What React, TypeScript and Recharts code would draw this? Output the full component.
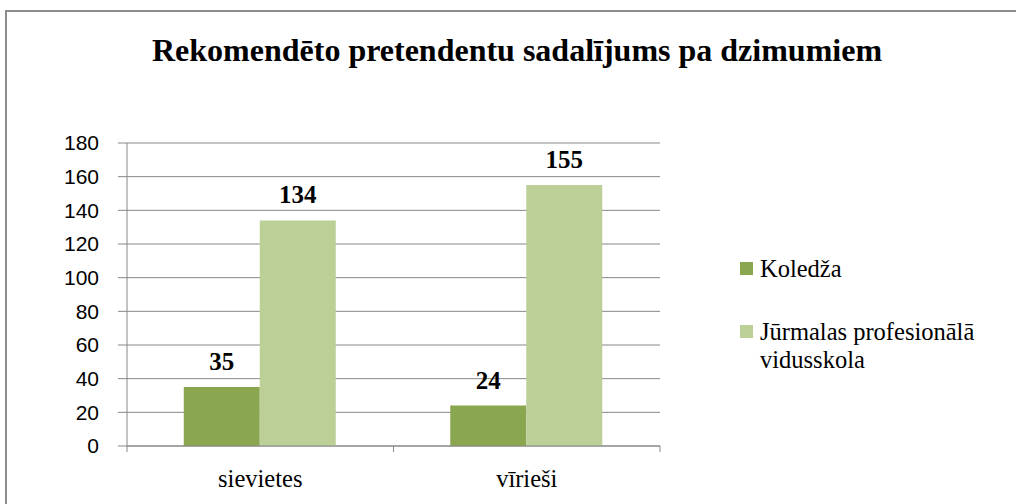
import React from 'react';
import { BarChart, Bar, XAxis, YAxis, CartesianGrid, Legend, LabelList } from 'recharts';

const title = 'Rekomendēto pretendentu sadalījums pa dzimumiem';
const categories = ['sievietes', 'vīrieši'];
const seriesNames = ['Koledža', 'Jūrmalas profesionālā vidusskola'];
const koledzaValues = [35, 24];
const jurmalaValues = [134, 155];
const yTicks = [0, 20, 40, 60, 80, 100, 120, 140, 160, 180];

const data = categories.map((name, i) => ({
  name,
  koledza: koledzaValues[i],
  jurmala: jurmalaValues[i],
}));

const AXIS = '#878787';
const DARK = '#8AA64F';
const LIGHT = '#BBCF97';
const SERIF = '"Liberation Serif", "Times New Roman", serif';
const SANS = '"Liberation Sans", Arial, sans-serif';

const XTick = (props: any) => {
  const { x, y, payload } = props;
  const off = payload && payload.offset ? payload.offset : 0;
  return (
    <g>
      <line x1={x - off} x2={x - off} y1={y} y2={y + 6} stroke={AXIS} />
      <line x1={x + off} x2={x + off} y1={y} y2={y + 6} stroke={AXIS} />
      <text x={x} y={y + 41} textAnchor="middle" fontFamily={SERIF} fontSize={24.5} fill="#000">
        {payload.value}
      </text>
    </g>
  );
};

const LegendContent = (props: any) => {
  const payload = [...(props.payload || [])].sort(
    (a: any, b: any) => seriesNames.indexOf(a.value) - seriesNames.indexOf(b.value)
  );
  return (
    <div style={{ fontFamily: SERIF, fontSize: 24.5, lineHeight: '28px', color: '#000' }}>
      {payload.map((e: any, i: number) => (
        <div
          key={i}
          style={{ display: 'flex', alignItems: 'flex-start', marginTop: i ? 35 : 0, width: 265 }}
        >
          <span
            style={{
              display: 'inline-block',
              width: 13,
              height: 13,
              background: e.color,
              marginTop: 7,
              marginRight: 7,
              flex: 'none',
            }}
          />
          <span>{e.value}</span>
        </div>
      ))}
    </div>
  );
};

export default function App() {
  return (
    <div
      style={{
        position: 'fixed',
        left: 0,
        top: 0,
        width: 1016,
        height: 504,
        background: '#fff',
        overflow: 'hidden',
      }}
    >
      <div
        style={{
          position: 'absolute',
          left: 5,
          top: 10,
          width: 1100,
          height: 600,
          borderTop: '2px solid #8c8c8c',
          borderLeft: '2px solid #8c8c8c',
        }}
      />
      <svg
        width={1016}
        height={504}
        style={{ position: 'absolute', left: 0, top: 0, pointerEvents: 'none' }}
      >
        <text
          x={517}
          y={61}
          textAnchor="middle"
          fontFamily={SERIF}
          fontWeight="bold"
          fontSize={32}
          fill="#000"
        >
          {title}
        </text>
      </svg>
      <div style={{ position: 'absolute', left: 0, top: 0 }}>
        <BarChart
          width={1016}
          height={504}
          data={data}
          margin={{ top: 143, right: 356, bottom: 0, left: 0 }}
          barCategoryGap="21.3%"
          barGap={0}
        >
          <CartesianGrid vertical={false} stroke={AXIS} />
          <XAxis
            dataKey="name"
            height={58}
            tickSize={0}
            tickMargin={0}
            axisLine={{ stroke: AXIS }}
            tickLine={false}
            tick={<XTick />}
            interval={0}
          />
          <YAxis
            domain={[0, 180]}
            ticks={yTicks}
            width={127}
            tickSize={9}
            tickMargin={19}
            interval={0}
            axisLine={{ stroke: AXIS }}
            tickLine={{ stroke: AXIS }}
            tick={{ fill: '#000', fontSize: 21, fontFamily: SANS }}
          />
          <Legend
            layout="vertical"
            align="center"
            verticalAlign="middle"
            wrapperStyle={{ position: 'absolute', left: 740, top: 255, width: 270 }}
            content={<LegendContent />}
          />
          <Bar dataKey="koledza" name={seriesNames[0]} fill={DARK} isAnimationActive={false}>
            <LabelList
              dataKey="koledza"
              position="top"
              offset={17}
              fill="#000"
              fontFamily={SERIF}
              fontWeight="bold"
              fontSize={25}
            />
          </Bar>
          <Bar dataKey="jurmala" name={seriesNames[1]} fill={LIGHT} isAnimationActive={false}>
            <LabelList
              dataKey="jurmala"
              position="top"
              offset={17}
              fill="#000"
              fontFamily={SERIF}
              fontWeight="bold"
              fontSize={25}
            />
          </Bar>
        </BarChart>
      </div>
    </div>
  );
}
